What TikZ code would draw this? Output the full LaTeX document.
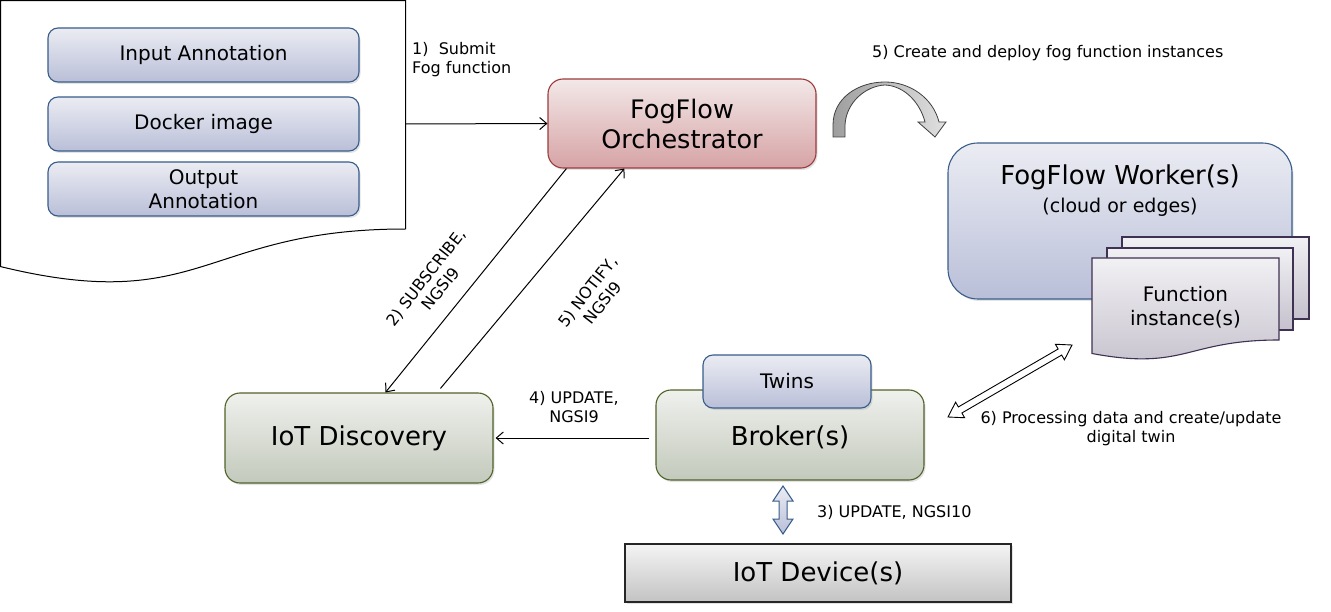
\documentclass[tikz,border=0pt]{standalone}
\usepackage{fontspec}
\setmainfont{DejaVu Sans}
\usetikzlibrary{arrows.meta,calc,shadows}
\definecolor{bluebd}{HTML}{385D8A}
\definecolor{bluetop}{HTML}{EBECF3}
\definecolor{bluebot}{HTML}{B9BFD8}
\definecolor{redbd}{HTML}{9B3B3D}
\definecolor{redtop}{HTML}{F3E8E8}
\definecolor{redbot}{HTML}{D6A3A5}
\definecolor{grnbd}{HTML}{4F6228}
\definecolor{grntop}{HTML}{EFF1ED}
\definecolor{grnbot}{HTML}{C3C9BC}
\definecolor{pagebd}{HTML}{3F3151}
\definecolor{pagetop}{HTML}{F1F0F3}
\definecolor{pagebot}{HTML}{C5C1CD}
\definecolor{devtop}{HTML}{F4F4F4}
\definecolor{devbot}{HTML}{C3C3C3}
\definecolor{devbd}{HTML}{262626}
\tikzset{
  softshadow/.style={drop shadow={shadow xshift=1.5pt,shadow yshift=-2pt,opacity=0.22}},
  bluebox/.style={draw=bluebd, line width=1.1pt, rounded corners=10pt, top color=bluetop, bottom color=bluebot, softshadow},
  redbox/.style={draw=redbd, line width=1.1pt, rounded corners=15pt, top color=redtop, bottom color=redbot, softshadow},
  grnbox/.style={draw=grnbd, line width=1.1pt, rounded corners=15pt, top color=grntop, bottom color=grnbot, softshadow},
  devbox/.style={draw=devbd, line width=1.1pt, top color=devtop, bottom color=devbot, softshadow},
  pagestyle/.style={draw=pagebd, line width=1.1pt, top color=pagetop, bottom color=pagebot},
  conn/.style={line width=1pt, -{Straight Barb[length=7pt,width=12pt]}},
  lbl/.style={inner sep=0pt, font=\fontsize{16}{19}\selectfont},
  midfont/.style={font=\fontsize{20}{24}\selectfont},
  bigfont/.style={font=\fontsize{26}{30}\selectfont}
}
\begin{document}
\begin{tikzpicture}[x=1pt,y=-1pt]
\useasboundingbox (0,0) rectangle (1331,612);

% document shape
\draw[line width=1pt, fill=white] (0.6,0.6) -- (405.5,0.6) -- (405.5,229) .. controls (203,229) and (203,316) .. (0.6,266.6) -- cycle;
\coordinate (docR) at (405.5,124);
\node[bluebox, midfont, minimum width=311, minimum height=54] (inann) at (203.5,55) {Input Annotation};
\node[bluebox, midfont, minimum width=311, minimum height=54] (docker) at (203.5,124) {Docker image};
\node[bluebox, midfont, minimum width=311, minimum height=54, align=center] (outann) at (203.5,189) {Output\\Annotation};

% orchestrator
\node[redbox, font=\fontsize{25.5}{30}\selectfont, align=center, minimum width=268, minimum height=89] (orch) at (682,123.5) {FogFlow\\Orchestrator};

% worker
\node[bluebox, rounded corners=30pt, minimum width=344, minimum height=156] (worker) at (1120,221) {};
\node[bigfont] (wt1) at (1120,177) {FogFlow Worker(s)};
\node[font=\fontsize{19}{23}\selectfont] (wt2) at (1120,207) {(cloud or edges)};

% function instances
\draw[pagestyle] (1122,237) rectangle (1309,319);
\draw[pagestyle] (1107,248) rectangle (1293,330);
\draw[pagestyle] (1092,258) -- (1279,258) -- (1279,340) .. controls (1185.5,340) and (1185.5,371) .. (1092,353.5) -- cycle;
\node[midfont, align=center] (fi) at (1185.5,307) {Function\\instance(s)};

% curved arrow
\draw[line width=0.8pt, draw=black!75, left color=black!38, right color=black!12]
  (833,137) -- (833,125) .. controls (833,98) and (858,82) .. (885,82)
  .. controls (910,82) and (933,98) .. (939,122) -- (946,122) -- (935,137) -- (918,122) -- (925,122)
  .. controls (920,103) and (905,86) .. (885,85) .. controls (865,86) and (846,103) .. (845,125) -- (845,137) -- cycle;
\node[lbl, anchor=west] (l5c) at (872,53) {5) Create and deploy fog function instances};

% discovery, broker, twins, device
\node[grnbox, bigfont, minimum width=268, minimum height=90] (disc) at (359,438) {IoT Discovery};
\node[grnbox, minimum width=268, minimum height=90] (broker) at (790,435) {};
\node[bigfont] (brokertxt) at (790,437) {Broker(s)};
\node[bluebox, font=\fontsize{20}{24}\selectfont, minimum width=168, minimum height=53] (twins) at (787,381.5) {Twins};
\node[devbox, bigfont, minimum width=386, minimum height=58] (device) at (818,573) {IoT Device(s)};

% connectors
\draw[conn] (docR) -- (orch.west);
\node[lbl, anchor=west, align=left] (l1) at (412,59.5) {1)\ \ Submit\\Fog function};

\draw[conn] ($(orch.south west)+(19,0)$) -- ($(disc.north west)+(161,0)$);
\draw[conn] ($(disc.north west)+(216,-4)$) -- ($(orch.south west)+(77,0)$);
\node[lbl, rotate=52, align=center] (l2) at (433,283) {2) SUBSCRIBE,\\NGSI9};
\node[lbl, rotate=52, align=center] (l5n) at (595,297) {5) NOTIFY,\\NGSI9};

\draw[conn] ($(broker.west)+(-6,3)$) -- ($(disc.east)+(2,0)$);
\node[lbl, align=center] (l4) at (574,407.5) {4) UPDATE,\\NGSI9};

% block double arrow 3
\coordinate (a3) at (783,486);
\coordinate (b3) at (783,534);
\draw[draw=bluebd, line width=1pt, top color=bluetop, bottom color=bluebot]
  (a3) -- ++(10,15) -- ++(-6,0) -- ++(0,18) -- ++(6,0) -- (b3) -- ++(-10,-15) -- ++(6,0) -- ++(0,-18) -- ++(-6,0) -- cycle;
\node[lbl, anchor=west] (l3) at (817,512) {3) UPDATE, NGSI10};

% hollow double arrow 6
\coordinate (a6) at (948,417);
\coordinate (b6) at (1072,345);
\begin{scope}[shift={(a6)}, rotate=30.14]
\draw[line width=0.9pt, fill=white]
  (0,0) -- (14,9) -- (14,3.5) -- (129.4,3.5) -- (129.4,9) -- (143.4,0) -- (129.4,-9) -- (129.4,-3.5) -- (14,-3.5) -- (14,-9) -- cycle;
\end{scope}
\node[lbl, align=center] (l6) at (1131,428.5) {6) Processing data and create/update\\digital twin};
\end{tikzpicture}
\end{document}
